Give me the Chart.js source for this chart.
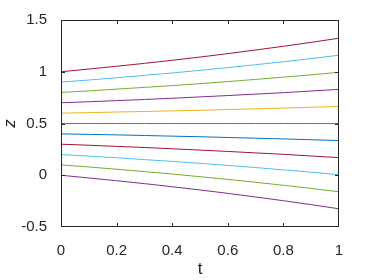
<!DOCTYPE html>
<html>
<head>
<meta charset="utf-8">
<script src="https://cdn.jsdelivr.net/npm/chart.js@4.4.1/dist/chart.umd.min.js"></script>
<style>
    html, body { margin: 0; padding: 0; background: #ffffff; }
    #wrap { position: relative; width: 374px; height: 280px; }
    #chart_canvas { display: block; width: 374px; height: 280px; }
    #frame { position: absolute; box-sizing: border-box; border: 1px solid #262626; pointer-events: none; }
    .tick { position: absolute; background: #262626; pointer-events: none; }
</style>
</head>
<body>
<div id="wrap"><canvas id="chart_canvas" width="374" height="280"></canvas><div id="frame"></div></div>
<script>
// t axis
const t_values = [0, 0.1, 0.2, 0.3, 0.4, 0.5, 0.6, 0.7, 0.8, 0.9, 1];

// one curve per starting height
const z_start_00 = [0, -0.026, -0.053, -0.081, -0.111, -0.142, -0.175, -0.210, -0.246, -0.284, -0.324];
const z_start_01 = [0.1, 0.080, 0.058, 0.035, 0.012, -0.014, -0.040, -0.068, -0.097, -0.127, -0.160];
const z_start_02 = [0.2, 0.185, 0.169, 0.151, 0.134, 0.115, 0.095, 0.074, 0.052, 0.030, 0.005];
const z_start_03 = [0.3, 0.290, 0.279, 0.268, 0.256, 0.243, 0.230, 0.216, 0.202, 0.186, 0.170];
const z_start_04 = [0.4, 0.395, 0.390, 0.384, 0.378, 0.372, 0.365, 0.358, 0.351, 0.343, 0.335];
const z_start_05 = [0.5, 0.5, 0.5, 0.5, 0.5, 0.5, 0.5, 0.5, 0.5, 0.5, 0.5];
const z_start_06 = [0.6, 0.605, 0.611, 0.616, 0.622, 0.628, 0.635, 0.642, 0.649, 0.657, 0.665];
const z_start_07 = [0.7, 0.710, 0.721, 0.732, 0.744, 0.757, 0.770, 0.784, 0.798, 0.814, 0.830];
const z_start_08 = [0.8, 0.815, 0.832, 0.849, 0.866, 0.885, 0.905, 0.926, 0.948, 0.970, 0.995];
const z_start_09 = [0.9, 0.920, 0.942, 0.965, 0.988, 1.014, 1.040, 1.068, 1.097, 1.127, 1.160];
const z_start_10 = [1.0, 1.026, 1.053, 1.081, 1.111, 1.142, 1.175, 1.210, 1.246, 1.284, 1.324];

const all_series = [z_start_00, z_start_01, z_start_02, z_start_03, z_start_04, z_start_05,
                    z_start_06, z_start_07, z_start_08, z_start_09, z_start_10];

const x_ticks = [0, 0.2, 0.4, 0.6, 0.8, 1];
const y_ticks = [-0.5, 0, 0.5, 1, 1.5];

// matlab default line colours, continuing the order
const line_colors = ["#7E2F8E", "#77AC30", "#4DBEEE", "#A2142F", "#0072BD", "#D95319",
                     "#EDB120", "#7E2F8E", "#77AC30", "#4DBEEE", "#A2142F"];

const axis_color = "#262626";
const font_family = "'Liberation Sans', Arial, sans-serif";

let datasets = [];
for(let i = 0; i < all_series.length; i++){
    let points = [];
    for(let j = 0; j < t_values.length; j++){
        points.push({ x: t_values[j], y: all_series[i][j] });
    }
    datasets.push({
        data: points,
        borderColor: line_colors[i],
        borderWidth: 1,
        pointRadius: 0,
        fill: false,
        tension: 0
    });
}

const chart = new Chart(document.getElementById("chart_canvas").getContext("2d"), {
    type: "line",
    data: { datasets: datasets },
    options: {
        responsive: false,
        maintainAspectRatio: false,
        devicePixelRatio: 1,
        animation: false,
        layout: { padding: { left: 0, top: 20, right: 35, bottom: 0 } },
        plugins: {
            legend: { display: false },
            tooltip: { enabled: false }
        },
        scales: {
            x: {
                type: "linear",
                min: 0,
                max: 1,
                afterBuildTicks: function(axis){
                    axis.ticks = x_ticks.map(v => ({ value: v }));
                },
                afterFit: function(axis){ axis.height = 53; },
                grid: { display: false },
                border: { display: false },
                ticks: {
                    color: axis_color,
                    padding: 7,
                    maxRotation: 0,
                    font: { family: font_family, size: 15 },
                    callback: v => String(v)
                },
                title: {
                    display: true,
                    text: "t",
                    color: axis_color,
                    padding: { top: 1, bottom: 0 },
                    font: { family: font_family, size: 17 }
                }
            },
            y: {
                type: "linear",
                min: -0.5,
                max: 1.5,
                afterBuildTicks: function(axis){
                    axis.ticks = y_ticks.map(v => ({ value: v }));
                },
                afterFit: function(axis){ axis.width = 61; },
                grid: { display: false },
                border: { display: false },
                ticks: {
                    color: axis_color,
                    padding: 6,
                    font: { family: font_family, size: 15 },
                    callback: v => String(v)
                },
                title: {
                    display: true,
                    text: "z",
                    color: axis_color,
                    padding: { top: 0, bottom: 2 },
                    font: { family: font_family, size: 17, style: "italic" }
                }
            }
        }
    }
});

// matlab style box and inward ticks, placed from the chart's own scales
function placeBox(){
    const wrap = document.getElementById("wrap");
    const frame = document.getElementById("frame");
    const area = chart.chartArea;
    const l = Math.round(area.left);
    const r = Math.round(area.right);
    const top = Math.round(area.top);
    const bot = Math.round(area.bottom);
    const tick_len = 3;

    frame.style.left = l + "px";
    frame.style.top = top + "px";
    frame.style.width = (r - l) + "px";
    frame.style.height = (bot - top) + "px";

    function addTick(x, y, w, h){
        const d = document.createElement("div");
        d.className = "tick";
        d.style.left = x + "px";
        d.style.top = y + "px";
        d.style.width = w + "px";
        d.style.height = h + "px";
        wrap.appendChild(d);
    }

    for(let i = 0; i < x_ticks.length; i++){
        const px = Math.min(Math.round(chart.scales.x.getPixelForValue(x_ticks[i])), r - 1);
        addTick(px, bot - 1 - tick_len, 1, tick_len);
        addTick(px, top + 1, 1, tick_len);
    }
    for(let i = 0; i < y_ticks.length; i++){
        const py = Math.min(Math.round(chart.scales.y.getPixelForValue(y_ticks[i])), bot - 1);
        addTick(l + 1, py, tick_len, 1);
        addTick(r - 1 - tick_len, py, tick_len, 1);
    }
}
placeBox();
</script>
</body>
</html>
